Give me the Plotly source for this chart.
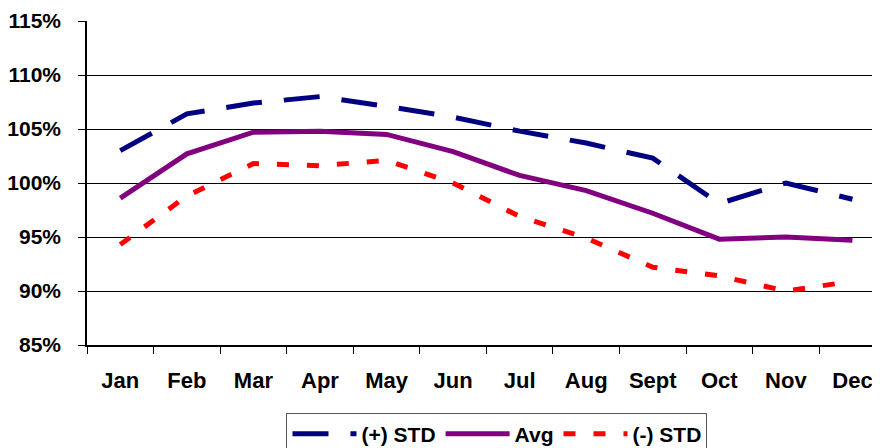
import plotly.graph_objects as go

months = ["Jan", "Feb", "Mar", "Apr", "May", "Jun", "Jul", "Aug", "Sept", "Oct", "Nov", "Dec"]
plus_std = [103.0, 106.4, 107.4, 108.0, 107.1, 106.1, 104.8, 103.7, 102.3, 98.1, 100.0, 98.5]
avg = [98.6, 102.7, 104.7, 104.8, 104.5, 102.9, 100.7, 99.3, 97.2, 94.8, 95.0, 94.7]
minus_std = [94.3, 98.8, 101.8, 101.6, 102.1, 100.0, 96.9, 94.9, 92.2, 91.4, 90.0, 90.9]

FONT = "Liberation Sans, Arial, sans-serif"

fig = go.Figure()
fig.add_trace(go.Scatter(x=months, y=plus_std, name="(+) STD", mode="lines",
                         line=dict(color="#000080", width=5, dash="36px,22px")))
fig.add_trace(go.Scatter(x=months, y=avg, name="Avg", mode="lines",
                         line=dict(color="#800080", width=5)))
fig.add_trace(go.Scatter(x=months, y=minus_std, name="(-) STD", mode="lines",
                         line=dict(color="#FF0000", width=5, dash="12px,18px")))

fig.update_layout(
    width=872, height=440,
    margin=dict(l=79, r=0, t=13, b=103, autoexpand=False),
    paper_bgcolor="white", plot_bgcolor="white",
    font=dict(family=FONT, size=21, color="black", weight="bold"),
    showlegend=True,
    legend=dict(orientation="h", x=0.517, xanchor="center", y=-0.275, yanchor="middle",
                bordercolor="#555", borderwidth=1, bgcolor="white",
                font=dict(family=FONT, size=21, color="black", weight="bold"),
                tracegroupgap=0, itemwidth=64),
)

fig.update_xaxes(
    type="category", categoryorder="array", categoryarray=months,
    range=[-0.5, 11.414], automargin=False,
    showgrid=False, showline=True, linecolor="black", linewidth=1.5,
    ticks="outside", tickson="boundaries", ticklen=7, tickcolor="black", tickwidth=1,
    tickfont=dict(family=FONT, size=22, color="black", weight="bold"),
    ticklabelstandoff=15,
)
fig.update_yaxes(
    range=[85, 115], dtick=5, ticksuffix="%", automargin=False,
    showgrid=True, gridcolor="black", gridwidth=1,
    showline=True, linecolor="black", linewidth=1.5,
    ticks="outside", ticklen=7, tickcolor="black",
    tickfont=dict(family=FONT, size=21, color="black", weight="bold"),
    ticklabelstandoff=13,
    zeroline=False,
)

fig.write_html("out.html")
